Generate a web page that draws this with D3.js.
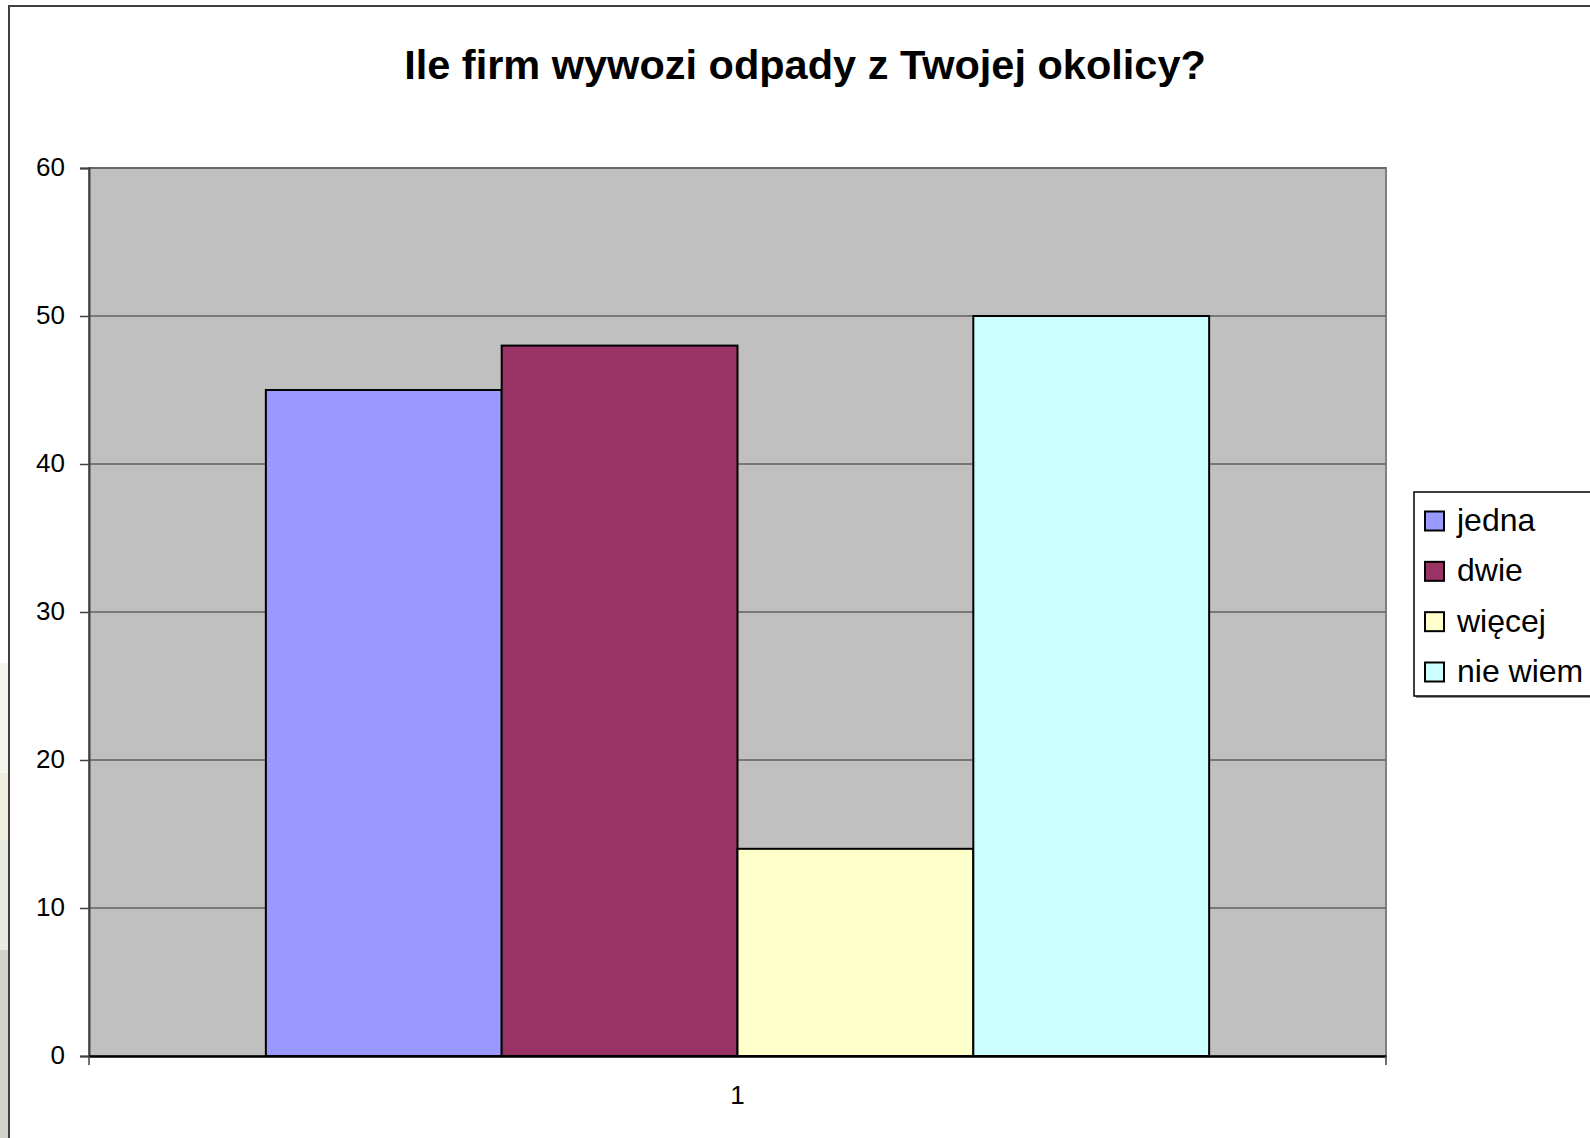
<!DOCTYPE html>
<html>
<head>
<meta charset="utf-8">
<script src="https://cdn.jsdelivr.net/npm/d3@7"></script>
<style>
  html, body { margin: 0; padding: 0; background: #fff; }
  svg { display: block; font-family: "Liberation Sans", Arial, sans-serif; }
</style>
</head>
<body>
<script>
'use strict';

// chart data
const title = "Ile firm wywozi odpady z Twojej okolicy?";
const categories = ["1"];
const seriesNames = ["jedna", "dwie", "więcej", "nie wiem"];
const seriesValues = [45, 48, 14, 50];
const seriesColors = ["#9999FF", "#993366", "#FFFFCC", "#CCFFFF"];
const yTicks = [0, 10, 20, 30, 40, 50, 60];

const params = {
	width: 1590,
	height: 1138,
	plotLeft: 89,
	plotRight: 1386,
	plotTop: 168,
	plotBottom: 1056
};

const svg = d3.select("body")
	.append("svg")
	.attr("width", params.width)
	.attr("height", params.height);

// bit of the slide background showing at the left edge
const strip = [
	{y0: 663, y1: 773, c: "#f6f5ec"},
	{y0: 773, y1: 840, c: "#efede0"},
	{y0: 840, y1: 950, c: "#eaeae4"},
	{y0: 950, y1: 1138, c: "#d2d2ca"}
];
svg.selectAll(".strip")
	.data(strip)
	.enter()
	.append("rect")
	.attr("x", 0)
	.attr("y", d => d.y0)
	.attr("width", 9)
	.attr("height", d => d.y1 - d.y0)
	.attr("fill", d => d.c);

// chart border (right and bottom fall outside the picture)
svg.append("path")
	.attr("d", "M9,1140 V6 H1592")
	.attr("fill", "none")
	.attr("stroke", "#404040")
	.attr("stroke-width", 2);

svg.append("text")
	.attr("x", 805)
	.attr("y", 79)
	.attr("text-anchor", "middle")
	.attr("font-size", 41.5)
	.attr("font-weight", "bold")
	.text(title);

// scales
const yScale = d3.scaleLinear()
	.domain([0, 60])
	.range([params.plotBottom, params.plotTop]);

const x0 = d3.scaleBand()
	.domain(categories)
	.range([params.plotLeft, params.plotRight]);

const x1 = d3.scaleBand()
	.domain(seriesNames)
	.range([0, x0.bandwidth()])
	.paddingInner(0)
	.paddingOuter(0.75);

// plot area
svg.append("rect")
	.attr("x", params.plotLeft)
	.attr("y", params.plotTop)
	.attr("width", params.plotRight - params.plotLeft)
	.attr("height", params.plotBottom - params.plotTop)
	.attr("fill", "#C0C0C0")
	.attr("stroke", "#808080")
	.attr("stroke-width", 2);

// gridlines
svg.append("g")
	.selectAll("line")
	.data(yTicks.filter(d => d > 0))
	.enter()
	.append("line")
	.attr("x1", params.plotLeft)
	.attr("x2", params.plotRight)
	.attr("y1", d => yScale(d))
	.attr("y2", d => yScale(d))
	.attr("stroke", "#606060")
	.attr("stroke-width", 1.5);

// bars
const groups = svg.append("g")
	.selectAll("g")
	.data(categories)
	.enter()
	.append("g")
	.attr("transform", d => `translate(${x0(d)},0)`);

groups.selectAll("rect")
	.data(seriesNames.map((s, i) => ({name: s, value: seriesValues[i], color: seriesColors[i]})))
	.enter()
	.append("rect")
	.attr("x", d => x1(d.name))
	.attr("y", d => yScale(d.value))
	.attr("width", x1.bandwidth())
	.attr("height", d => yScale(0) - yScale(d.value))
	.attr("fill", d => d.color)
	.attr("stroke", "#000")
	.attr("stroke-width", 2);

// y axis
const yAxis = svg.append("g")
	.attr("transform", `translate(${params.plotLeft},0)`)
	.call(d3.axisLeft(yScale).tickValues(yTicks).tickSize(9).tickPadding(15).tickFormat(d3.format("d")));
yAxis.select(".domain").attr("stroke", "#404040").attr("stroke-width", 2);
yAxis.selectAll(".tick line").attr("stroke", "#404040").attr("stroke-width", 1.5);
yAxis.selectAll("text")
	.attr("font-size", 26)
	.attr("fill", "#000")
	.attr("dy", "0.28em")
	.attr("font-family", "Liberation Sans, Arial, sans-serif");

// x axis
const xAxis = svg.append("g")
	.attr("transform", `translate(0,${params.plotBottom})`)
	.call(d3.axisBottom(x0).tickSize(0).tickPadding(30));
xAxis.select(".domain").attr("stroke", "#000").attr("stroke-width", 2.5);
xAxis.selectAll("text")
	.attr("font-size", 26)
	.attr("fill", "#000")
	.attr("font-family", "Liberation Sans, Arial, sans-serif");

// category boundary ticks
svg.append("g")
	.selectAll("line")
	.data(x0.range())
	.enter()
	.append("line")
	.attr("x1", d => d)
	.attr("x2", d => d)
	.attr("y1", params.plotBottom)
	.attr("y2", params.plotBottom + 9)
	.attr("stroke", "#404040")
	.attr("stroke-width", 1.5);

// legend
const legend = svg.append("g");
legend.append("rect")
	.attr("x", 1416)
	.attr("y", 494)
	.attr("width", 200)
	.attr("height", 204)
	.attr("fill", "#909090");
legend.append("rect")
	.attr("x", 1414)
	.attr("y", 492)
	.attr("width", 200)
	.attr("height", 204)
	.attr("fill", "#fff")
	.attr("stroke", "#000")
	.attr("stroke-width", 1.5);

const rowY = d3.scalePoint()
	.domain(seriesNames)
	.range([521, 672]);

const items = legend.selectAll(".item")
	.data(seriesNames)
	.enter()
	.append("g")
	.attr("transform", d => `translate(0,${rowY(d)})`);

items.append("rect")
	.attr("x", 1425)
	.attr("y", -9.5)
	.attr("width", 19)
	.attr("height", 19)
	.attr("fill", (d, i) => seriesColors[i])
	.attr("stroke", "#000")
	.attr("stroke-width", 2);

items.append("text")
	.attr("x", 1457)
	.attr("y", 10)
	.attr("font-size", 32)
	.text(d => d);
</script>
</body>
</html>
